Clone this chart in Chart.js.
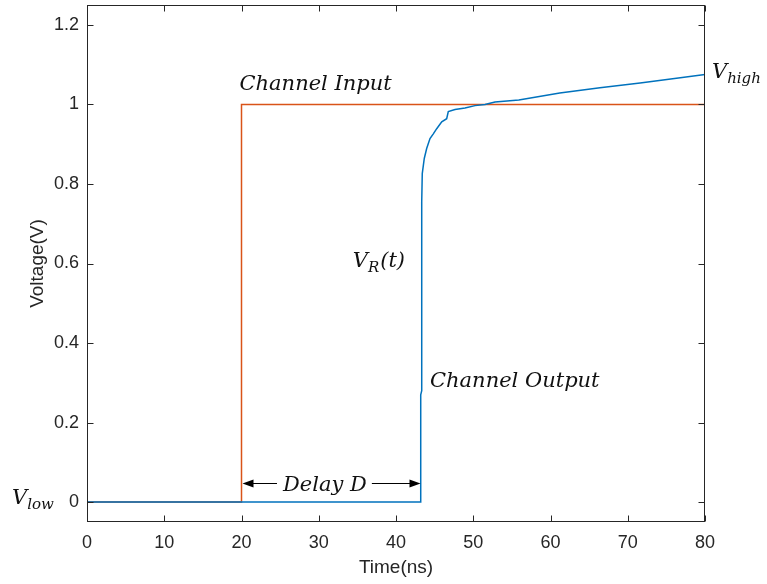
<!DOCTYPE html>
<html>
<head>
<meta charset="utf-8">
<script src="https://cdn.jsdelivr.net/npm/chart.js@4/dist/chart.umd.min.js"></script>
<style>
  html, body { margin: 0; padding: 0; background: #fff; }
  #wrap { width: 767px; height: 584px; }
</style>
</head>
<body>
<div id="wrap"><canvas id="stepChart" width="767" height="584"></canvas></div>
<script>
'use strict';

// --- données ---
const TIME_IN  = [0, 20, 20, 80];
const VOLT_IN  = [0, 0, 1, 1];

const TIME_OUT = [0, 43.2, 43.2, 43.33, 43.33, 43.4, 43.66, 43.97, 44.4, 44.83, 45.27, 45.92,
                  46.56, 46.77, 47.64, 48.93, 50.23, 51.52, 52.82, 55.9, 61.2, 66.4, 71.6, 76.8, 80];
const VOLT_OUT = [0, 0, 0.27, 0.28, 0.755, 0.826, 0.864, 0.889, 0.914, 0.926, 0.939, 0.956,
                  0.964, 0.982, 0.987, 0.991, 0.997, 1.0, 1.006, 1.011, 1.029, 1.042, 1.054, 1.067, 1.075];

const X_TICKS = [0, 10, 20, 30, 40, 50, 60, 70, 80];
const Y_TICKS = [0, 0.2, 0.4, 0.6, 0.8, 1, 1.2];

const BLUE = '#0072BD';
const RED  = '#D95319';
const AXIS = '#262626';
const SERIF = '"DejaVu Serif", serif';
const SANS = '"Liberation Sans", Arial, sans-serif';

const toXY = (xs, ys) => xs.map((x, i) => ({ x, y: ys[i] }));

// V + indice + suite, en italique
function drawSubText(ctx, main, sub, tail, x, yb, size) {
  ctx.font = `italic ${size}px ${SERIF}`;
  ctx.fillText(main, x, yb);
  let cx = x + ctx.measureText(main).width;
  ctx.font = `italic ${Math.round(size * 0.72)}px ${SERIF}`;
  ctx.fillText(sub, cx, yb + 5);
  cx += ctx.measureText(sub).width + 1;
  if (tail) {
    ctx.font = `italic ${size}px ${SERIF}`;
    ctx.fillText(tail, cx, yb);
  }
}

function arrowHead(ctx, x, y, dir) {
  ctx.beginPath();
  ctx.moveTo(x, y);
  ctx.lineTo(x - dir * 11, y - 4);
  ctx.lineTo(x - dir * 11, y + 4);
  ctx.closePath();
  ctx.fill();
}

const annotations = {
  id: 'annotations',
  afterDraw(chart) {
    const { ctx, chartArea: a, scales: { x, y } } = chart;
    ctx.save();

    // cadre + graduations vers l'intérieur
    ctx.strokeStyle = AXIS;
    ctx.lineWidth = 1;
    const L = Math.round(a.left) + 0.5, R = Math.round(a.right) - 0.5;
    const T = Math.round(a.top) + 0.5, B = Math.round(a.bottom) - 0.5;
    ctx.strokeRect(L, T, R - L, B - T);
    ctx.beginPath();
    X_TICKS.forEach(v => {
      const px = Math.round(x.getPixelForValue(v)) + 0.5;
      ctx.moveTo(px, B); ctx.lineTo(px, B - 6);
      ctx.moveTo(px, T); ctx.lineTo(px, T + 6);
    });
    Y_TICKS.forEach(v => {
      const py = Math.round(y.getPixelForValue(v)) + 0.5;
      ctx.moveTo(L, py); ctx.lineTo(L + 6, py);
      ctx.moveTo(R, py); ctx.lineTo(R - 6, py);
    });
    ctx.stroke();

    // textes
    ctx.fillStyle = '#111';
    ctx.textBaseline = 'alphabetic';
    ctx.textAlign = 'left';
    const size = 21;

    ctx.font = `italic ${size}px ${SERIF}`;
    ctx.fillText('Channel Input', x.getPixelForValue(20) - 2, y.getPixelForValue(1.037));
    ctx.fillText('Channel Output', x.getPixelForValue(44.4), y.getPixelForValue(0.29));

    drawSubText(ctx, 'V', 'high', '', x.getPixelForValue(80) + 7, y.getPixelForValue(1.067), size);
    drawSubText(ctx, 'V', 'R', '(t)', x.getPixelForValue(34.4), y.getPixelForValue(0.59), size);
    drawSubText(ctx, 'V', 'low', '', a.left - 75, y.getPixelForValue(0) + 2, size);

    // flèche Delay D
    const ay = Math.round(y.getPixelForValue(0.048)) + 0.5;
    const x0 = x.getPixelForValue(20) + 1;
    const x1 = x.getPixelForValue(43.3) - 1;
    const xc = x.getPixelForValue(30.8);
    ctx.font = `italic ${size}px ${SERIF}`;
    const label = 'Delay D';
    const w = ctx.measureText(label).width;
    ctx.textAlign = 'center';
    ctx.fillText(label, xc, ay + 7);
    ctx.strokeStyle = '#000';
    ctx.fillStyle = '#000';
    ctx.beginPath();
    ctx.moveTo(x0 + 4, ay); ctx.lineTo(xc - w / 2 - 6, ay);
    ctx.moveTo(xc + w / 2 + 5, ay); ctx.lineTo(x1 - 4, ay);
    ctx.stroke();
    arrowHead(ctx, x0, ay, -1);
    arrowHead(ctx, x1, ay, 1);

    ctx.restore();
  }
};

new Chart(document.getElementById('stepChart'), {
  type: 'line',
  data: {
    datasets: [
      {
        label: 'Channel Output',
        data: toXY(TIME_OUT, VOLT_OUT),
        borderColor: BLUE,
        borderWidth: 1.5,
        pointRadius: 0,
        tension: 0,
        fill: false,
      },
      {
        label: 'Channel Input',
        data: toXY(TIME_IN, VOLT_IN),
        borderColor: RED,
        borderWidth: 1.5,
        pointRadius: 0,
        tension: 0,
        fill: false,
      },
    ],
  },
  options: {
    responsive: false,
    animation: false,
    devicePixelRatio: 1,
    layout: { padding: { left: 0, top: 5, right: 62, bottom: 0 } },
    plugins: { legend: { display: false }, tooltip: { enabled: false } },
    scales: {
      x: {
        type: 'linear',
        min: 0,
        max: 80,
        afterBuildTicks: s => { s.ticks = X_TICKS.map(v => ({ value: v })); },
        afterFit: s => { s.height = 62; s.paddingLeft = 0; s.paddingRight = 0; },
        grid: { display: false, drawTicks: false },
        border: { display: false },
        ticks: { color: AXIS, padding: 10, font: { family: SANS, size: 18 } },
        title: {
          display: true,
          text: 'Time(ns)',
          color: AXIS,
          padding: { top: 0, bottom: 5 },
          font: { family: SANS, size: 19 },
        },
      },
      y: {
        type: 'linear',
        min: -0.05,
        max: 1.25,
        afterBuildTicks: s => { s.ticks = Y_TICKS.map(v => ({ value: v })); },
        afterFit: s => { s.width = 87; s.paddingTop = 0; s.paddingBottom = 0; },
        grid: { display: false, drawTicks: false },
        border: { display: false },
        ticks: {
          color: AXIS,
          padding: 8,
          font: { family: SANS, size: 18 },
          callback: v => String(v),
        },
        title: {
          display: true,
          text: 'Voltage(V)',
          color: AXIS,
          padding: { top: 26, bottom: 0 },
          font: { family: SANS, size: 19 },
        },
      },
    },
  },
  plugins: [annotations],
});
</script>
</body>
</html>
